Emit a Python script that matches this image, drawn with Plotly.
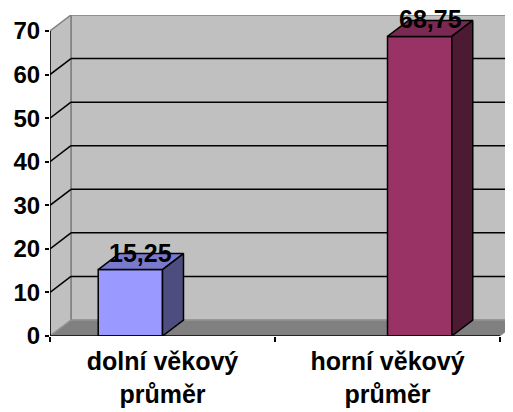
import plotly.graph_objects as go

# ---- data ----
categories = ["dolní věkový průměr", "horní věkový průměr"]
series_1 = [15.25, None]
series_2 = [None, 68.75]
series_values = [series_1, series_2]
series_front_colors = ["#9999FF", "#993366"]
series_top_colors = ["#7A7ACC", "#7A2952"]
series_side_colors = ["#4D4D80", "#4D1A33"]
y_tick_values = [0, 10, 20, 30, 40, 50, 60, 70]
y_tick_labels = ["0", "10", "20", "30", "40", "50", "60", "70"]

# ---- geometry (Excel-like 3D column look) ----
GAP = 1.5                      # gap width 150 %
N_SER = len(series_values)
W = 1.0 / (N_SER + GAP)
Y_MAX = 70
DX = 0.0933                    # depth offset in x units
DY = 3.67                      # depth offset in y units
X_LO, X_HI = -0.5, len(categories) - 0.5
X_RANGE_HI = X_HI + 0.0578
FONT = "Liberation Sans, Arial, sans-serif"

fig = go.Figure()

def poly(pts):
    return "M " + " L ".join(f"{x},{y}" for x, y in pts) + " Z"

shapes = []
# back wall
shapes.append(dict(type="path", xref="x", yref="y", layer="below",
                   path=poly([(X_LO + DX, DY), (X_HI + DX, DY), (X_HI + DX, Y_MAX + DY), (X_LO + DX, Y_MAX + DY)]),
                   fillcolor="#C0C0C0", line=dict(color="#808080", width=1.5)))
# left wall
shapes.append(dict(type="path", xref="x", yref="y", layer="below",
                   path=poly([(X_LO, 0), (X_LO + DX, DY), (X_LO + DX, Y_MAX + DY), (X_LO, Y_MAX)]),
                   fillcolor="#C0C0C0", line=dict(color="#808080", width=1.5)))
# floor
shapes.append(dict(type="path", xref="x", yref="y", layer="below",
                   path=poly([(X_LO, 0), (X_HI, 0), (X_HI + DX, DY), (X_LO + DX, DY)]),
                   fillcolor="#808080", line=dict(color="#A0A0A0", width=1)))
# gridlines
for v in y_tick_values[1:-1]:
    shapes.append(dict(type="line", xref="x", yref="y", layer="below",
                       x0=X_LO + DX, x1=X_HI + DX, y0=v + DY, y1=v + DY,
                       line=dict(color="black", width=1.5)))
    shapes.append(dict(type="line", xref="x", yref="y", layer="below",
                       x0=X_LO, x1=X_LO + DX, y0=v, y1=v + DY,
                       line=dict(color="black", width=1.5)))
# axes lines
shapes.append(dict(type="line", xref="x", yref="y", x0=X_LO, x1=X_LO, y0=0, y1=Y_MAX,
                   line=dict(color="black", width=1.5)))
shapes.append(dict(type="line", xref="x", yref="y", x0=X_LO, x1=X_HI, y0=0, y1=0,
                   line=dict(color="black", width=1.5)))

annotations = []
for s, vals in enumerate(series_values):
    for i, v in enumerate(vals):
        if v is None:
            continue
        x0 = i - 0.5 + GAP * W / 2 + s * W
        x1 = x0 + W
        fig.add_trace(go.Bar(x=[i], y=[v], width=W, offset=x0 - i,
                             marker=dict(color=series_front_colors[s], line=dict(color="black", width=1.5)),
                             hoverinfo="skip", showlegend=False))
        top = [(x0, v), (x1, v), (x1 + DX, v + DY), (x0 + DX, v + DY), (x0, v)]
        side = [(x1, 0), (x1 + DX, DY), (x1 + DX, v + DY), (x1, v), (x1, 0)]
        for pts, col in ((top, series_top_colors[s]), (side, series_side_colors[s])):
            fig.add_trace(go.Scatter(x=[p[0] for p in pts], y=[p[1] for p in pts],
                                     mode="lines", fill="toself", fillcolor=col,
                                     line=dict(color="black", width=1.5),
                                     hoverinfo="skip", showlegend=False))
        annotations.append(dict(x=(x0 + x1 + DX) / 2, y=v, xref="x", yref="y",
                                text=f"{v:.2f}".replace(".", ","), showarrow=False,
                                yanchor="middle", yshift=17,
                                font=dict(family=FONT, size=25, color="black", weight="bold")))

tick_text = [c.rsplit(" ", 1)[0] + "<br>" + c.rsplit(" ", 1)[1] for c in categories]

# the page body adds an 8 px margin, so the figure is 8 px smaller and margins compensated
fig.update_layout(
    width=505, height=404,
    margin=dict(l=42, r=0, t=7, b=76, autoexpand=False),
    paper_bgcolor="white", plot_bgcolor="white",
    barmode="overlay", showlegend=False,
    shapes=shapes, annotations=annotations,
    xaxis=dict(range=[X_LO, X_RANGE_HI], showgrid=False, zeroline=False, showline=False,
               tickmode="array", tickvals=list(range(len(categories))), ticktext=tick_text,
               ticks="", automargin=False, ticklabelstandoff=8,
               tickfont=dict(family=FONT, size=25, color="black", weight="bold"),
               minor=dict(tickmode="array", tickvals=[X_LO + k for k in range(len(categories) + 1)],
                          ticks="outside", ticklen=5, tickwidth=1.5, tickcolor="black", showgrid=False)),
    yaxis=dict(range=[0, Y_MAX + DY], showgrid=False, zeroline=False, showline=False,
               tickmode="array", tickvals=y_tick_values, ticktext=y_tick_labels,
               ticks="outside", ticklen=4, tickwidth=1.5, tickcolor="black", automargin=False,
               tickfont=dict(family=FONT, size=24, color="black", weight="bold")),
)

fig.write_html("out.html")
